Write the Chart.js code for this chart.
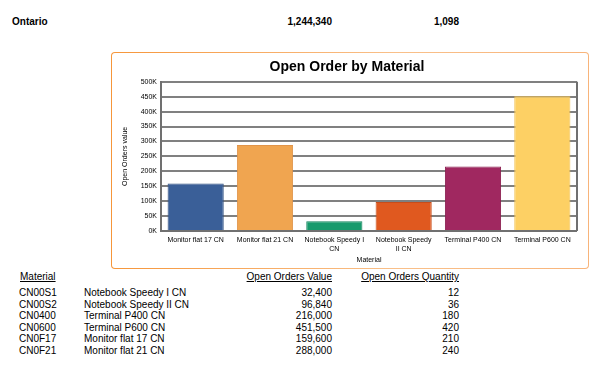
<!DOCTYPE html>
<html>
<head>
<meta charset="utf-8">
<script src="https://cdn.jsdelivr.net/npm/chart.js@4"></script>
<style>
  body { margin:0; background:#fff; font-family:"Liberation Sans", Arial, sans-serif; color:#000; }
  .abs { position:absolute; white-space:nowrap; font-size:10px; line-height:12px; }
  .bold { font-weight:bold; }
  .r { text-align:right; }
  .u { text-decoration:underline; }
  #frame { position:absolute; left:111px; top:52px; width:478px; height:217px; border-radius:4px;
           background:linear-gradient(to right, #f6963a, #f9c08a 60%, #f8b47a); padding:1px; box-sizing:border-box; }
  #inner { width:100%; height:100%; background:#fff; border-radius:3px; }
  #chart { position:absolute; left:111px; top:53px; }
</style>
</head>
<body>
<div id="frame"><div id="inner"></div></div>
<canvas id="chart" width="478" height="216"></canvas>
<div id="report"></div>
<script>
  // table rows (report order)
  const codes = ['CN00S1','CN00S2','CN0400','CN0600','CN0F17','CN0F21'];
  const materials = ['Notebook Speedy I CN','Notebook Speedy II CN','Terminal P400 CN','Terminal P600 CN','Monitor flat 17 CN','Monitor flat 21 CN'];
  const orderValues = [32400, 96840, 216000, 451500, 159600, 288000];
  const orderQty = [12, 36, 180, 420, 210, 240];

  // chart order (by material name)
  const chartOrder = [4, 5, 0, 1, 2, 3];
  const chartLabels = [['Monitor flat 17 CN'], ['Monitor flat 21 CN'], ['Notebook Speedy I','CN'], ['Notebook Speedy','II CN'], ['Terminal P400 CN'], ['Terminal P600 CN']];
  const barColors = ['#3a5f98','#f0a550','#179a6c','#e0591f','#a02860','#fdd064'];
  const borderColors = ['#2f4f80','#e0944a','#12845c','#c84d1a','#8a2050','#f0c050'];
  const yTicks = { min:0, max:500000, step:50000 };

  const fmt = n => n.toLocaleString('en-US');
  const report = document.getElementById('report');
  function put(text, x, y, cls, right){
    const d = document.createElement('div');
    d.className = 'abs ' + (cls||'');
    d.textContent = text;
    if (right) { d.style.right = (600 - x) + 'px'; d.classList.add('r'); } else d.style.left = x + 'px';
    d.style.top = y + 'px';
    report.appendChild(d);
  }

  // header line
  put('Ontario', 12, 16, 'bold');
  put(fmt(orderValues.reduce((a,b)=>a+b,0)), 332, 16, 'bold', true);
  put(fmt(orderQty.reduce((a,b)=>a+b,0)), 459, 16, 'bold', true);

  // table
  put('Material', 20, 271, 'u');
  put('Open Orders Value', 332, 271, 'u', true);
  put('Open Orders Quantity', 459, 271, 'u', true);
  codes.forEach((c,i) => {
    const y = 287 + i*11.5;
    put(c, 19, y);
    put(materials[i], 84, y);
    put(fmt(orderValues[i]), 332, y, '', true);
    put(fmt(orderQty[i]), 459, y, '', true);
  });

  const framePlugin = {
    id:'frame',
    afterDatasetsDraw(chart){
      const a = chart.chartArea, ctx = chart.ctx;
      ctx.save();
      ctx.strokeStyle = '#707070';
      ctx.lineWidth = 2;
      ctx.beginPath();
      ctx.moveTo(a.right, a.top); ctx.lineTo(a.right, a.bottom);
      ctx.moveTo(a.left, a.bottom); ctx.lineTo(a.right, a.bottom);
      ctx.stroke();
      ctx.restore();
    }
  };

  const tickFont = { family:'"Liberation Sans", Arial, sans-serif', size:7 };
  new Chart(document.getElementById('chart').getContext('2d'), {
    type:'bar',
    data:{
      labels: chartLabels,
      datasets:[{
        data: chartOrder.map(i => orderValues[i]),
        backgroundColor: barColors,
        borderColor: borderColors,
        borderWidth: 1,
        barPercentage: 0.81,
        categoryPercentage: 1
      }]
    },
    options:{
      responsive:false,
      animation:false,
      layout:{ padding:{ left:6, right:12, top:0, bottom:0 } },
      plugins:{
        legend:{ display:false },
        tooltip:{ enabled:false },
        title:{ display:true, text:'Open Order by Material', color:'#000',
          font:{ family:'"Liberation Sans", Arial, sans-serif', size:14, weight:'bold' },
          padding:{ top:6, bottom:6 } }
      },
      scales:{
        x:{
          grid:{ display:false, drawTicks:false },
          border:{ display:false },
          ticks:{ font:tickFont, color:'#000', maxRotation:0, autoSkip:false, padding:5 },
          title:{ display:true, text:'Material', font:tickFont, color:'#000', padding:{ top:2, bottom:5 } },
          afterFit(scale){ scale.height = 38; }
        },
        y:{
          min:yTicks.min, max:yTicks.max,
          grid:{ color:'#808080', lineWidth:2, drawTicks:false },
          border:{ color:'#707070', width:2 },
          ticks:{ stepSize:yTicks.step, font:tickFont, color:'#000', padding:4,
            callback: v => (v/1000) + 'K' },
          title:{ display:true, text:'Open Orders value', font:tickFont, color:'#000', padding:{ top:4, bottom:0 } },
          afterFit(scale){ scale.width = 44; }
        }
      }
    },
    plugins:[framePlugin]
  });
</script>
</body>
</html>
